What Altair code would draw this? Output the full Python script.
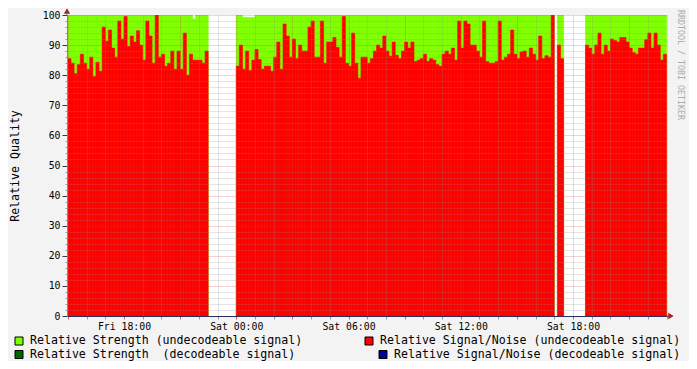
import altair as alt
import pandas as pd

# ---- data (10-minute samples) ----
seg1_start = "2023-03-10 14:50"
seg1_sn = [80, 85.5, 84, 80.5, 83.5, 87, 84, 82, 86, 79.5, 84.3, 81.3, 96, 91.3, 95, 89,
           86, 98, 92, 99.5, 89.5, 93, 91, 94.8, 90, 85, 98, 93, 84, 100, 86, 87, 83, 84,
           88, 82, 88, 82, 94, 80, 87, 85, 85, 85, 84, 88]
seg1_str = [100, 100, 100, 100, 100, 100, 100, 100, 100, 100, 100, 100, 100, 100, 100, 100,
            100, 100, 100, 100, 100, 100, 100, 100, 100, 100, 100, 100, 100, 100, 100, 100,
            100, 100, 100, 100, 100, 100, 100, 100, 100, 98.7, 100, 100, 100, 100]

seg2_start = "2023-03-11 00:00"
seg2_sn = [83, 90, 82, 88, 81.5, 85, 88.5, 85.2, 82, 83, 83, 81.3, 86, 91, 82, 97, 93, 86,
           92, 85.5, 90, 88, 88, 96, 98, 86, 86, 98, 84, 91, 91, 92.5, 89.2, 86, 99.5, 84,
           83, 94, 84, 79, 86, 86, 84, 85.5, 88, 90, 89, 93, 88, 86.3, 91, 86.6, 85.5, 88,
           91, 89, 91, 84.5, 85, 85.5, 87, 84.6, 85.5, 85, 83.5, 83, 87, 88, 87, 89, 85,
           98, 89, 98, 97, 90, 90, 88, 86, 98, 84.5, 84, 84, 84.5, 98, 85, 86, 87, 95, 87,
           85.5, 87.7, 88, 86, 89, 87, 85, 93, 85.5, 86.5, 86, 100, None, 90, 85.5]
seg2_str = [100, 100, 99.2, 99.2, 99.2, 99.2, 100, 100, 100, 100, 100, 100, 100, 100, 100,
            100, 100, 100, 100, 100, 100, 100, 100, 100, 100, 100, 100, 100, 100, 100, 100,
            100, 100, 100, 100, 100, 100, 100, 100, 100, 100, 100, 100, 100, 100, 100, 100,
            100, 100, 100, 100, 100, 100, 100, 100, 100, 100, 100, 100, 100, 100, 100, 100,
            100, 100, 100, 100, 100, 100, 100, 100, 100, 100, 100, 100, 100, 100, 100, 100,
            100, 100, 100, 100, 100, 100, 100, 100, 100, 100, 100, 100, 100, 100, 100, 100,
            100, 100, 100, 100, 100, 100, 100, None, 100, 100]

seg3_start = "2023-03-11 18:40"
seg3_sn = [90, 89, 87, 90, 94, 87, 90, 88, 92, 91.5, 91, 92.5, 92.5, 91, 89, 87.5, 87, 89,
           89, 91.8, 94, 89, 94, 90, 85, 87]
seg3_str = [100, 100, 100, 100, 100, 100, 100, 100, 100, 100, 100, 100, 100, 100, 100, 100,
            100, 100, 100, 100, 100, 100, 100, 100, 100, 100]

legend_labels = [
    "Relative Strength (undecodeable signal)",
    "Relative Strength\u00a0 (decodeable signal)",
    "Relative Signal/Noise (undecodeable signal)",
    "Relative Signal/Noise (decodeable signal)",
]
legend_colors = ["#7fff00", "#006400", "#ff0000", "#000099"]
y_ticks = list(range(0, 101, 2))
x_tick_hours = pd.date_range("2023-03-10 15:00", "2023-03-11 23:00", freq="1h")
watermark = "RRDTOOL / TOBI OETIKER"

FONT = "DejaVu Sans Mono"


def build(start, sn, st):
    t = pd.date_range(start, periods=len(sn), freq="10min")
    return pd.DataFrame({
        "t": t.strftime("%Y-%m-%dT%H:%M:%S"),
        "t2": (t + pd.Timedelta(minutes=10)).strftime("%Y-%m-%dT%H:%M:%S"),
        "sn": sn,
        "st": st,
    })


df = pd.concat([build(seg1_start, seg1_sn, seg1_str),
                build(seg2_start, seg2_sn, seg2_str),
                build(seg3_start, seg3_sn, seg3_str)], ignore_index=True).dropna()


def dt(ts):
    return alt.DateTime(year=ts.year, month=ts.month, date=ts.day,
                        hours=ts.hour, minutes=ts.minute, seconds=ts.second)


x_values = [dt(ts) for ts in x_tick_hours]
x_domain = [alt.DateTime(year=2023, month=3, date=10, hours=14, minutes=57, seconds=10),
            alt.DateTime(year=2023, month=3, date=11, hours=23, minutes=1, seconds=30)]

major_x = "hours(datum.value) % 3 == 0"
major_y = "datum.value % 10 == 0"

x_enc = alt.X(
    "t:T",
    scale=alt.Scale(domain=x_domain),
    axis=alt.Axis(
        values=x_values, tickCount=200, title=None,
        labelExpr="hours(datum.value) % 6 == 0 ? timeFormat(datum.value, '%a %H:%M') : ''",
        labelFont=FONT, labelFontSize=9.8, labelColor="#000000", labelPadding=2,
        labelOverlap=False, labelFlush=False, labelBound=False,
        grid=True, gridDash=[1, 1], gridOpacity=0.45,
        gridColor={"condition": {"test": major_x, "value": "#c83c3c"}, "value": "#8c8c8c"},
        tickColor={"condition": {"test": major_x, "value": "#d06060"}, "value": "#9a9a9a"},
        tickSize=3, domainColor="#2c2c5c", zindex=1,
    ),
)
y_enc = alt.Y(
    "st:Q",
    scale=alt.Scale(domain=[0, 100], nice=False),
    axis=alt.Axis(
        values=y_ticks, tickCount=200, title="Relative Quality",
        labelExpr="datum.value % 10 == 0 ? format(datum.value, 'd') : ''",
        labelFont=FONT, labelFontSize=9.8, labelColor="#000000", labelPadding=2,
        labelOverlap=False, labelFlush=False, labelBound=False,
        grid=True, gridDash=[1, 1], gridOpacity=0.45,
        gridColor={"condition": {"test": major_y, "value": "#c83c3c"}, "value": "#8c8c8c"},
        tickColor={"condition": {"test": major_y, "value": "#333355"}, "value": "#9a9a9a"},
        tickSize={"condition": {"test": major_y, "value": 5}, "value": 2},
        domainColor="#888888", zindex=1,
        titleFont=FONT, titleFontSize=11.6, titleFontWeight="normal", titleColor="#000000",
        titleX=-52, titleY=150.5, titleAngle=270, titleAlign="center", titleBaseline="middle",
    ),
)

green = alt.Chart(df).mark_rect(color="#7fff00", stroke="#7fff00", strokeWidth=0.6,
                                clip=True).encode(
    x=x_enc, x2="t2:T", y=y_enc, y2=alt.datum(0))
red = alt.Chart(df).mark_rect(color="#ff0000", stroke="#ff0000", strokeWidth=0.6,
                              clip=True).encode(
    x="t:T", x2="t2:T", y="sn:Q", y2=alt.datum(0))

one = alt.Data(values=[{}])
leg_pos = [(-52, 322, -37, 326.3), (-52, 335.5, -37, 339.6),
           (298, 322, 313, 326.3), (312, 335.5, 327, 339.6)]
legend_layers = []
for label, color, (sx, sy, tx, ty) in zip(legend_labels, legend_colors, leg_pos):
    legend_layers.append(
        alt.Chart(one).mark_rect(fill=color, stroke="#000000", strokeWidth=1).encode(
            x=alt.value(sx), x2=alt.value(sx + 8), y=alt.value(sy), y2=alt.value(sy + 8)))
    legend_layers.append(
        alt.Chart(one).mark_text(text=label, font=FONT, fontSize=11.6, align="left",
                                 baseline="middle", color="#000000").encode(
            x=alt.value(tx), y=alt.value(ty)))

wm = alt.Chart(one).mark_text(text=watermark, font=FONT, fontSize=8.3, angle=90,
                              align="left", baseline="middle", color="#aaaaaa").encode(
    x=alt.value(613), y=alt.value(-5))

arrow_up = alt.Chart(one).mark_point(shape="triangle-up", filled=True, size=40,
                                     color="#a02828", opacity=1).encode(
    x=alt.value(0), y=alt.value(-4))
arrow_right = alt.Chart(one).mark_point(shape="triangle-right", filled=True, size=40,
                                        color="#a02828", opacity=1).encode(
    x=alt.value(604), y=alt.value(301))
yline = alt.Chart(one).mark_rule(color="#888888").encode(
    x=alt.value(0), y=alt.value(-2), y2=alt.value(0))
xline = alt.Chart(one).mark_rule(color="#2c2c5c").encode(
    x=alt.value(600), x2=alt.value(602), y=alt.value(301))

chart = alt.layer(green, red, yline, xline, arrow_up, arrow_right, wm,
                  *legend_layers).properties(
    width=600, height=301,
    autosize=alt.AutoSizeParams(type="none"),
    padding={"left": 59, "top": 7, "right": 22, "bottom": 45},
    background="#f3f3f3",
).configure_view(fill="#ffffff", strokeWidth=0)

chart.save("out.html", embed_options={"renderer": "svg", "actions": False})
